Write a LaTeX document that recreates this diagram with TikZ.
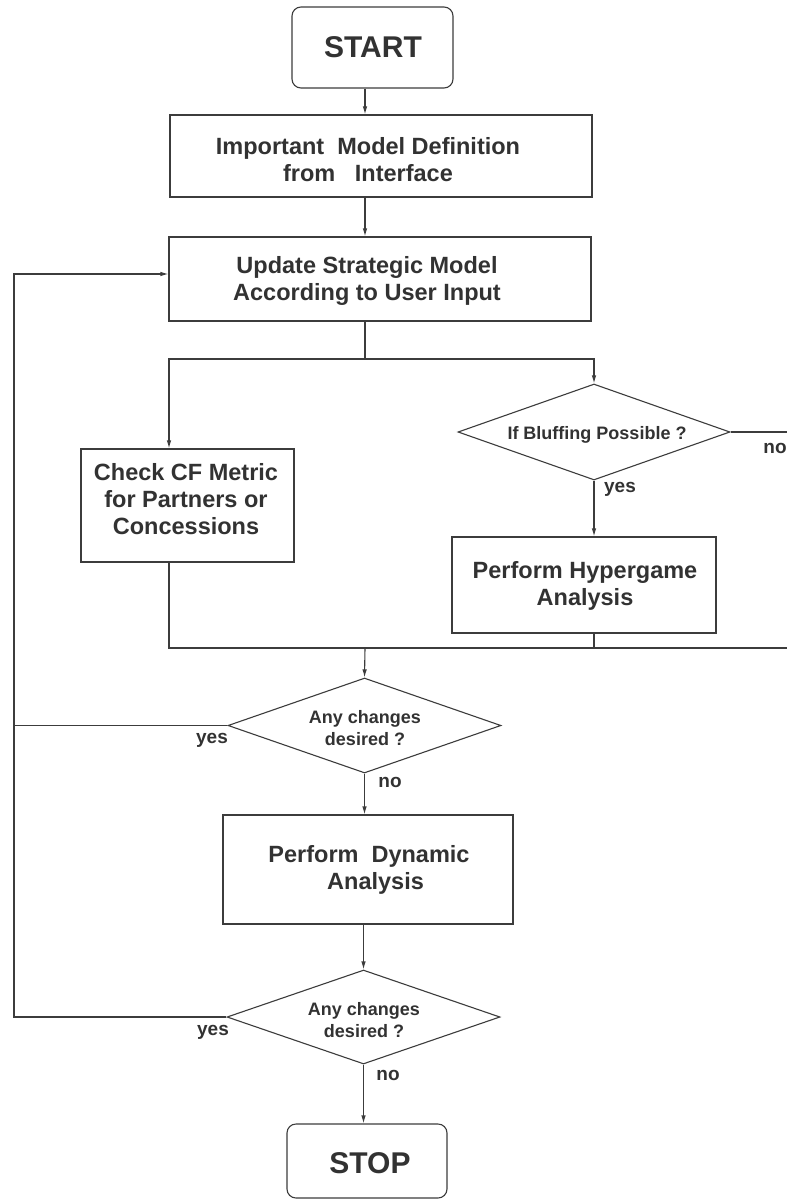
\documentclass[tikz,border=0pt]{standalone}
\usepackage{fontspec}
\setmainfont{Liberation Sans}
\usetikzlibrary{shapes.geometric,arrows.meta,calc}
\definecolor{ink}{RGB}{50,50,50}
\definecolor{linec}{RGB}{60,60,60}
\begin{document}
\begin{tikzpicture}[x=1pt,y=-1pt,
  box/.style={draw=linec, line width=1.1pt, rectangle, inner sep=0pt},
  rbox/.style={box, rounded corners=9pt},
  dia/.style={draw=linec, line width=1.1pt, diamond, inner sep=0pt},
  txt/.style={text=ink, font=\bfseries\fontsize{23.5}{27}\selectfont, align=center, inner sep=0pt},
  bigtxt/.style={text=ink, font=\bfseries\fontsize{30}{34}\selectfont, align=center, inner sep=0pt},
  dtxt/.style={text=ink, font=\bfseries\fontsize{18}{22}\selectfont, align=center, inner sep=0pt},
  lbl/.style={text=ink, font=\bfseries\fontsize{19}{22}\selectfont, inner sep=0pt},
  conn/.style={draw=linec, line width=1.1pt},
  arr/.style={conn, -{Latex[length=8pt,width=4.5pt]}},
]
\useasboundingbox (0,0) rectangle (787,1201);
\fill[white] (0,0) rectangle (787,1201);

% boxes
\node[rbox, minimum width=161pt, minimum height=81pt] (start) at (372.5,47.5) {};
\node[bigtxt] (starttxt) at (373,47) {START};

\node[box, minimum width=422pt, minimum height=82pt] (box2) at (381,156) {};
\node[txt] (box2txt) at (368,160) {Important\ \ Model Definition\\from\ \ \ Interface};

\node[box, minimum width=422pt, minimum height=84pt] (box3) at (380,279) {};
\node[txt] (box3txt) at (367,281) {Update Strategic Model\\According to User Input};

\node[dia, minimum width=272pt, minimum height=96pt] (bluff) at (594,432) {};
\node[dtxt] (blufftxt) at (597,435) {If Bluffing Possible ?};

\node[box, minimum width=213pt, minimum height=113pt] (check) at (187.5,505.5) {};
\node[txt] (checktxt) at (186,499) {Check CF Metric\\for Partners or\\Concessions};

\node[box, minimum width=264pt, minimum height=96pt] (hyper) at (584,585) {};
\node[txt] (hypertxt) at (585,586) {Perform Hypergame\\Analysis};

\node[dia, minimum width=273pt, minimum height=95pt] (dia2) at (364.5,725.5) {};
\node[dtxt] (dia2txt) at (365,728) {Any changes\\desired ?};

\node[box, minimum width=290pt, minimum height=109pt] (dyn) at (368,869.5) {};
\node[txt] (dyntxt) at (369,870) {Perform\ \ Dynamic\\\ \ Analysis};

\node[dia, minimum width=273pt, minimum height=94pt] (dia3) at (363.5,1017) {};
\node[dtxt] (dia3txt) at (364,1020) {Any changes\\desired ?};

\node[rbox, minimum width=160pt, minimum height=74pt] (stop) at (367,1161) {};
\node[bigtxt] (stoptxt) at (370,1163) {STOP};

% helper coordinates
\coordinate (ax) at (365,0);
\coordinate (cx) at (169,0);
\coordinate (sp) at (365,359);
\coordinate (mg) at (365,648);
\coordinate (redge) at (787,0);
\coordinate (lx) at (14,0);
\coordinate (ly) at (0,274);

% connectors
\draw[arr] (start.south -| ax) -- (box2.north -| ax);
\draw[arr] (box2.south -| ax) -- (box3.north -| ax);
\draw[conn] (box3.south -| ax) -- (sp);
\draw[arr] (sp) -| (check.north -| cx);
\draw[arr] (sp) -| (bluff.north);
\draw[conn] (bluff.east) -- (bluff.east -| redge);
\draw[arr] (bluff.south) -- (hyper.north -| bluff);
\draw[conn] (check.south -| cx) |- (mg -| redge);
\draw[conn] (hyper.south -| bluff) -- (mg -| bluff);
\draw[arr] (mg) -- (dia2.north);
\draw[arr] (dia2.west) -- (dia2.west -| lx) |- (box3.west |- ly);
\draw[arr] (dia2.south) -- (dyn.north -| dia2);
\draw[arr] (dyn.south -| dia3) -- (dia3.north);
\draw[conn] (dia3.west) -- (dia3.west -| lx) -- (dia2.west -| lx);
\draw[arr] (dia3.south) -- (stop.north -| dia3);

% labels
\node[lbl] (lno1) at (775,448) {no};
\node[lbl] (lyes1) at (620,489) {yes};
\node[lbl] (lyes2) at (212,740) {yes};
\node[lbl] (lno2) at (390,782) {no};
\node[lbl] (lyes3) at (213,1032) {yes};
\node[lbl] (lno3) at (388,1075) {no};
\end{tikzpicture}
\end{document}
